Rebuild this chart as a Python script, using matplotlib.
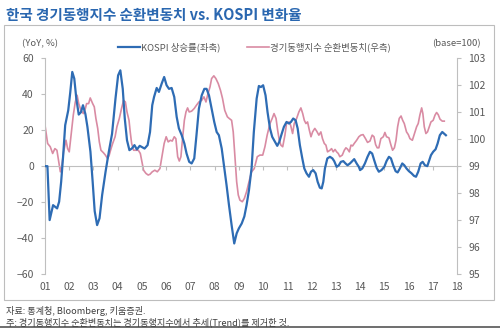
import matplotlib
matplotlib.use("Agg")
import matplotlib.pyplot as plt
from matplotlib.lines import Line2D
from matplotlib.patches import Rectangle

plt.rcParams['font.family'] = ['Noto Sans CJK KR', 'DejaVu Sans']

# ---- data (month offsets from 2001-01, values) ----
kospi_m = [0, 1.2, 2.3, 4, 5, 6, 7, 8, 9, 10, 11.5, 12.5, 13.5, 14.5, 15.5, 16.7, 17.8, 18.8, 20, 21,
           22.5, 23.6, 24.6, 25.8, 27, 28.3, 30, 31.6, 33.2, 34.9, 36.2, 37.3, 38.5, 39.5, 40.6, 41.8,
           43, 44.3, 45.5, 46.9, 48, 49.3, 50.8, 52, 53.1, 54, 55.3, 56.4, 57.8, 59, 60.2, 61.4, 62.7,
           64, 65.2, 66.3, 67.7, 69, 70.1, 71.4, 72.6, 73.9, 75, 76.2, 77.6, 78.9, 80, 81.2, 82.5, 83.8,
           85, 86.1, 87.5, 88.8, 89.9, 91.1, 92.4, 93.7, 94.9, 96, 97.4, 98.7, 99.8, 101, 102.3, 103.4,
           104.8, 105.9, 106.9, 108, 109.2, 110.2, 111.4, 112.5, 113.9, 115, 116, 117.2, 118.3, 119.6,
           120.8, 121.8, 122.9, 124.1, 125.1, 126.2, 127.4, 128.4, 129.5, 130.7, 131.7, 132.8, 134, 135,
           136.1, 137, 137.8, 138.6, 139.8, 141.1, 142.3, 143.2, 144.4, 145.5, 146.5, 147.7, 148.8,
           149.8, 151, 152.1, 153.1, 154.3, 155.4, 156, 157.1, 158.4, 159.7, 160.9, 162, 163, 164.2,
           165.3, 166.6, 168, 169.1, 170.3, 171.3, 172.4, 173.6, 174.6, 175.7, 176.9, 177.9, 179, 180.2,
           181.5, 182.7, 183.7, 184.8, 186, 187, 188.1, 189.3, 190.1, 191.1, 192.2, 193.4, 194.4, 195.5,
           196.7, 197.7, 198.5]
kospi_v = [0, 0, -30, -21.7, -22.6, -23.5, -19.8, -8.7, 6, 22.8, 31, 41, 52.4, 48.7, 37.6, 28.7, 30, 33.9, 29, 21.9,
           8, -8.7, -25, -32.8, -29, -16, -3, 8, 18, 37.6, 50.5, 53.3, 43, 26.5, 14.4, 8.9,
           9.8, 11.7, 9.3, 11.3, 10.6, 9.8, 11.7, 19, 33.9, 38.5, 43.5, 41.3, 46, 49.6, 45, 43, 43.5,
           38.5, 27.4, 21, 17.2, 12.6, 7, 2.4, 1.5, 4.3, 17.2, 32, 39.4, 43, 43, 39.4, 32, 24.6,
           19, 17.2, 9.8, -1.3, -10.6, -21.7, -32.8, -43, -37.4, -34.6, -31.9, -28, -21.7, -13.3, -1, 19,
           37.6, 44.6, 44, 45, 39.4, 30, 21, 16.3, 13.5, 11.3, 13.5, 18, 21.9, 24.6,
           23.7, 24.6, 26.5, 25.5, 21, 11.7, 4.3, -1.3, -4, -5.9, -3.1, -2.2, -4, -8.7,
           -12, -12.4, -8.7, -1.3, 4.3, 5.2, 4.3, 2.8, -0.4, 0.5, 2.4, 2.8, 1.5,
           0.5, 1.5, 2.8, 3.9, 1.5, -0.4, -2.2, -1.3, 1.5, 5.2, 8, 7, 3.3, -0.9,
           -3.1, -2.2, -0.4, 2.8, 5.2, 4.3, 0.5, -2.8, -3.5, -1.3, 1.5, 0.5, -1.3, -2.8,
           -4, -5.4, -5.9, -3.1, 1.5, 2.4, 0.5, 0, 2.8, 6.1, 8, 9.4, 12.6, 17.2,
           19, 18, 17.2]

cycle_m = [0, 1.3, 2.6, 3.8, 4.9, 5.9, 6.8, 7.6, 8.4, 9.2, 10.4, 11.2, 12, 12.9, 14, 15, 15.9, 16.7, 17.8, 19,
           20, 20.6, 21.6, 22.4, 23.6, 24.4, 25.2, 26.1, 26.9, 27.7, 28.9, 29.9, 31, 31.8, 32.7, 33.5,
           34.7, 35.6, 36.8, 37.9, 38.9, 39.8, 40.6, 41.6, 42.2, 42.9, 43.9, 45, 46.2, 47.2, 48, 48.8,
           50, 51.1, 52, 53.1, 54.4, 55.6, 56.9, 58, 59, 60, 61, 62.1, 63, 64, 64.8, 65.7, 66.5, 67.3,
           68.1, 69, 69.8, 70.6, 71.4, 72.6, 73.9, 75, 76.2, 77.6, 78.7, 79.7, 80.5, 81.7, 82.5, 83.6,
           84.6, 85.8, 86.9, 87.9, 89, 90.3, 91.2, 92.4, 93.2, 94, 94.9, 95.7, 96.5, 97.7, 98.7, 99.8,
           100.6, 101.4, 102.3, 103.6, 105.1, 106.4, 107.8, 108.9, 110, 111.4, 112.5, 113.4, 114.4,
           115.2, 116, 116.8, 117.7, 118.8, 119.6, 120.8, 121.6, 122.6, 123.4, 124.6, 125.7, 126.7,
           127.6, 128.4, 129.2, 130, 130.9, 131.7, 132.5, 133.6, 134.5, 135.6, 136.6, 137.4, 138.3,
           139.1, 139.9, 141.1, 141.9, 142.7, 143.6, 144.4, 145.2, 146, 147.2, 148.2, 149, 149.8,
           150.7, 151.5, 152.3, 153.1, 154.3, 155.4, 156.4, 157.5, 158.7, 159.7, 160.9, 162, 162.9,
           163.7, 164.5, 165.3, 166.3, 167.5, 168.3, 169.1, 170.3, 171.3, 172.1, 173, 173.8, 174.6,
           175.4, 176.3, 177.1, 177.9, 179, 179.9, 180.7, 181.9, 182.8, 184, 184.8, 185.6, 186.5,
           187.1, 187.8, 188.6, 189.4, 190.3, 191.1, 192.2, 193.1, 193.9, 194.7, 195.6, 196.7, 197.7]
cycle_v = [100.52, 99.84, 99.72, 99.47, 99.65, 99.59, 99.16, 98.79, 99.04, 99.53, 99.96, 99.65, 99.53, 100.15, 100.89, 101.38, 101.63, 101.32, 101.07, 100.95,
           101.14, 101.32, 101.32, 101.53, 101.32, 101.2, 100.77, 100.4, 99.9, 99.59, 99.5, 99.41, 99.28, 99.41, 99.65, 99.84,
           100.09, 100.46, 100.77, 101.14, 101.44, 101.38, 101.01, 100.7, 100.27, 99.84, 99.59, 99.59, 99.59, 99.47, 99.16, 98.85,
           98.73, 98.67, 98.7, 98.79, 98.85, 98.79, 98.91, 99.41, 99.84, 100.09, 99.9, 99.96, 99.93, 100.09, 100.02, 99.35, 99.19, 99.35,
           100.02, 100.7, 101.01, 101.16, 101.01, 101.04, 101.14, 101.26, 101.38, 101.44, 101.57, 101.38, 101.63, 101.94, 102.25, 102.35,
           102.25, 102.06, 101.81, 101.51, 101.07, 100.83, 100.77, 100.7, 100.27, 99.41, 98.42, 97.93, 97.74, 97.68, 97.8, 98.05,
           98.3, 98.54, 98.79, 98.91, 99.35, 99.41, 99.41, 99.72, 100.15, 100.58, 100.77, 100.95, 100.77,
           100.33, 99.96, 99.78, 99.72, 100.15, 100.58, 100.64, 100.52, 100.21, 100.58, 100.77, 101.01, 101.16,
           100.95, 100.7, 100.58, 100.64, 100.33, 100.09, 100.27, 100.4, 100.3, 100.15, 100.27, 100.02, 99.84,
           99.78, 99.53, 99.59, 99.65, 99.53, 99.62, 99.53, 99.47, 99.35, 99.41, 99.59, 99.68, 99.63,
           99.53, 99.78, 99.75, 99.84, 99.96, 100.09, 100.15, 100.17, 100.02, 99.88, 99.93, 100.15, 100.09,
           99.8, 99.68, 99.68, 100.02, 100.09, 100.25, 100.09, 100.05, 99.78, 99.59, 99.68, 99.96, 100.46,
           100.77, 100.86, 100.7, 100.58, 100.27, 100.17, 100.02, 99.96, 100.17, 100.46, 100.58, 100.89, 101.16,
           100.95, 100.46, 100.21, 100.27, 100.46, 100.64, 100.7, 100.89, 100.99, 100.91, 100.74, 100.67, 100.67]

year_labels = ['01', '02', '03', '04', '05', '06', '07', '08', '09', '10', '11', '12', '13', '14', '15', '16', '17', '18']
left_ticks = [-60, -40, -20, 0, 20, 40, 60]
right_ticks = [95, 96, 97, 98, 99, 100, 101, 102, 103]

title = '한국 경기동행지수 순환변동치 vs. KOSPI 변화율'
legend_kospi = 'KOSPI 상승률(좌축)'
legend_cycle = '경기동행지수 순환변동치(우측)'
source1 = '자료: 통계청, Bloomberg, 키움증권.'
source2 = '주: 경기동행지수 순환변동치는 경기동행지수에서 추세(Trend)를 제거한 것.'

BLUE = '#2e6cb4'
PINK = '#d98ba3'
GRAY = '#595959'
AX = '#bfbfbf'

W, H = 500, 330
fig = plt.figure(figsize=(5, 3.3), dpi=100)

def fx(px):
    return px / W

def fy(py):
    return 1 - py / H

# frame
fig.patches.append(Rectangle((fx(4), fy(300)), fx(490), (300 - 25) / H, transform=fig.transFigure,
                             fill=False, edgecolor='#bdbdbd', linewidth=0.8))
fig.lines.append(Line2D([0, 1], [fy(326.5), fy(326.5)], transform=fig.transFigure, color='#555555', lw=1.2))

fig.text(fx(6), fy(15), title, color='#2a67b0', fontsize=10.5, va='center', ha='left', fontweight='bold')

ax = fig.add_axes([fx(45), fy(274), fx(457 - 45), (274 - 58.3) / H])
ax.patch.set_alpha(0)
xk = [2001 + m / 12 for m in kospi_m]
xc = [2001 + m / 12 for m in cycle_m]

ax2 = ax.twinx()
ax2.plot(xc, cycle_v, color=PINK, lw=1.2, zorder=2)
ax2.set_ylim(95, 103)
ax2.set_yticks(right_ticks)
ax.set_zorder(ax2.get_zorder() + 1)
ax.plot(xk, kospi_v, color=BLUE, lw=1.6, zorder=3)
ax.set_ylim(-60, 60)
ax.set_xlim(2001, 2018)
ax.set_yticks(left_ticks)
ax.set_yticklabels(['\u221260', '\u221240', '\u221220', '0', '20', '40', '60'])

for a in (ax, ax2):
    for s in a.spines.values():
        s.set_visible(False)

ax.spines['left'].set_visible(True)
ax.spines['left'].set_color(AX)
ax2.spines['right'].set_visible(True)
ax2.spines['right'].set_color(AX)
ax.spines['bottom'].set_visible(True)
ax.spines['bottom'].set_position(('data', 0))
ax.spines['bottom'].set_color(AX)

years = list(range(2001, 2019))
ax.set_xticks(years)
ax.tick_params(axis='x', direction='out', length=3, color=AX, labelbottom=False)
ax.tick_params(axis='y', direction='out', length=3, color=AX, labelcolor=GRAY, labelsize=7.5, pad=5)
ax2.tick_params(axis='y', direction='out', length=3, color=AX, labelcolor=GRAY, labelsize=7.5, pad=5)

sec = ax.secondary_xaxis('bottom')
sec.set_xticks(years)
sec.set_xticklabels(year_labels)
sec.tick_params(length=0, pad=6, labelcolor=GRAY, labelsize=7.5)
for s in sec.spines.values():
    s.set_visible(False)

# unit labels
fig.text(fx(22), fy(44), '(YoY, %)', color=GRAY, fontsize=6.8, va='center', ha='left')
fig.text(fx(481), fy(44), '(base=100)', color=GRAY, fontsize=6.8, va='center', ha='right')

# legend
fig.lines.append(Line2D([fx(118), fx(140)], [fy(47), fy(47)], transform=fig.transFigure, color=BLUE, lw=1.6))
fig.text(fx(141), fy(47), legend_kospi, color=GRAY, fontsize=6.8, va='center', ha='left')
fig.lines.append(Line2D([fx(247), fx(269)], [fy(47), fy(47)], transform=fig.transFigure, color=PINK, lw=1.2))
fig.text(fx(270), fy(47), legend_cycle, color=GRAY, fontsize=6.8, va='center', ha='left')

# sources
fig.text(fx(6), fy(311), source1, color='#404040', fontsize=6.6, va='center', ha='left')
fig.text(fx(6), fy(322), source2, color='#404040', fontsize=6.6, va='center', ha='left')

fig.savefig('out.png', dpi=100)
